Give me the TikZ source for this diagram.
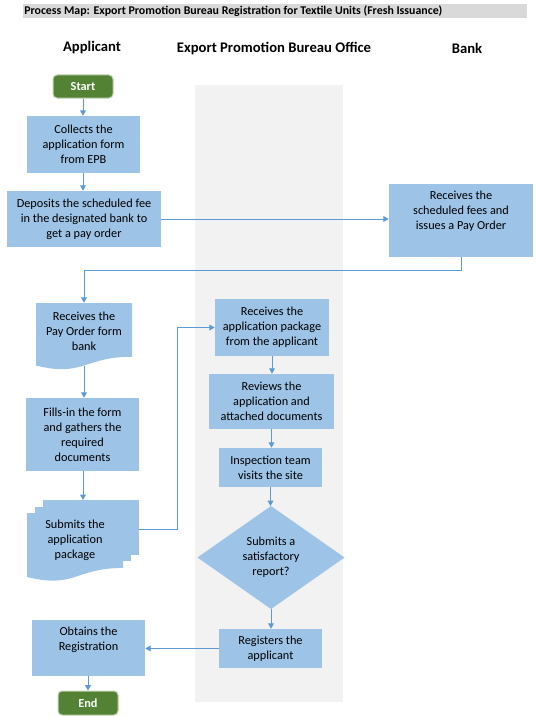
\documentclass[tikz,border=0pt]{standalone}
\usepackage{fontspec}
\setmainfont{Carlito}
\usetikzlibrary{arrows.meta}
\definecolor{boxblue}{HTML}{9DC3E6}
\definecolor{linkblue}{HTML}{5B9BD5}
\definecolor{laneg}{HTML}{F2F2F2}
\definecolor{titleg}{HTML}{D9D9D9}
\definecolor{startg}{HTML}{548235}
\definecolor{startb}{HTML}{BFD3B0}
\newcommand\mydocfill[4]{%
  \fill[boxblue] (#1,#2) -- ({#1+#3},#2) -- ({#1+#3},{#2+0.802*#4})
    .. controls ({#1+0.5*#3},{#2+0.802*#4}) and ({#1+0.5*#3},{#2+1.107*#4}) ..
    (#1,{#2+0.934*#4}) -- cycle;}
\begin{document}
\begin{tikzpicture}[x=0.75pt,y=-0.75pt,
 sz/.style 2 args={minimum width=#1*0.75pt, minimum height=#2*0.75pt},
 box/.style={fill=boxblue, inner sep=0pt, align=center, font=\fontsize{9.2pt}{11.25pt}\selectfont},
 txt/.style={inner sep=0pt, align=center, font=\fontsize{9.2pt}{11.25pt}\selectfont},
 term/.style={fill=startg, draw=startb, line width=0.75pt, rounded corners=3pt, text=white, font=\fontsize{9.2pt}{11pt}\selectfont\bfseries, inner sep=0pt},
 hdr/.style={font=\fontsize{11pt}{13pt}\selectfont\bfseries, inner sep=0pt},
 arr/.style={draw=linkblue, line width=0.75pt, -{Triangle[length=4pt,width=4.3pt]}},
 lnk/.style={draw=linkblue, line width=0.75pt}
]
\useasboundingbox (0,0) rectangle (536,717);
% title
\fill[titleg] (23,4) rectangle (527,18);
\node[anchor=west, inner sep=0pt, font=\fontsize{8.9pt}{10pt}\selectfont\bfseries] (title) at (24,11) {Process Map: Export Promotion Bureau Registration for Textile Units (Fresh Issuance)};
% lane
\fill[laneg] (195,85) rectangle (343,702);
% headers
\node[hdr] (h1) at (92,48) {Applicant};
\node[hdr] (h2) at (274,48) {Export Promotion Bureau Office};
\node[hdr] (h3) at (467,48) {Bank};
% shapes
\mydocfill{36}{303}{96}{67}
\fill[boxblue] (43,500) rectangle (138.5,555);
\fill[boxblue] (35,506.5) rectangle (131,561);
\mydocfill{27}{513}{96}{68.5}
\fill[boxblue] (271,506) -- (344.5,557.5) -- (271,609) -- (197.5,557.5) -- cycle;
\coordinate (diaN) at (271,506);
\coordinate (diaS) at (271,609);
% nodes
\node[term, sz={60}{23}] (start) at (83,86.5) {Start};
\node[box, sz={113}{57}] (collect) at (83.5,144.5) {Collects the\\application form\\from EPB};
\node[box, sz={154}{56}] (deposit) at (84,219) {Deposits the scheduled fee\\in the designated bank to\\get a pay order};
\node[box, sz={144}{73}] (bank) at (461,220.5) {};
\node[txt] (bankt) at (461,211) {Receives the\\scheduled fees and\\issues a Pay Order};
\node[txt, sz={96}{56}] (recv) at (84,331) {Receives the\\Pay Order form\\bank};
\coordinate (recvb) at (84,365.5);
\node[box, sz={113}{73}] (fills) at (82.5,434.5) {Fills-in the form\\and gathers the\\required\\documents};
\node[txt] (sub) at (75,540) {Submits the\\application\\package};
\coordinate (subtop) at (83,500);
\coordinate (subr) at (138.5,529);
\node[box, sz={114}{57}] (pkg) at (272,327.5) {Receives the\\application package\\from the applicant};
\node[box, sz={125}{55}] (review) at (271.5,401.5) {Reviews the\\application and\\attached documents};
\node[box, sz={103}{39}] (inspect) at (270.5,467.5) {Inspection team\\visits the site};
\node[txt] (dia) at (271,557.5) {Submits a\\satisfactory\\report?};
\node[box, sz={103}{39}] (register) at (270.5,648.5) {Registers the\\applicant};
\node[box, sz={113}{56}] (obtain) at (88.5,648) {};
\node[txt] (obtaint) at (88.5,640) {Obtains the\\Registration};
\node[term, sz={60}{24}] (end) at (88,703) {End};
% connectors
\draw[arr] (start.south) -- (collect.north -| start.south);
\draw[arr] (collect.south -| start.south) -- (deposit.north -| start.south);
\draw[arr] (deposit.east) -- (deposit.east -| bank.west);
\draw[arr] (bank.south) -- ++(0,13) -| (recv.north);
\draw[arr] (recvb) -- (recvb |- fills.north);
\draw[arr] (fills.south -| subtop) -- (subtop);
\draw[arr] (subr) -- (177,529) |- (pkg.west);
\draw[arr] (pkg.south) -- (pkg.south |- review.north);
\draw[arr] (review.south) -- (review.south |- inspect.north);
\draw[arr] (inspect.south) -- (inspect.south |- diaN);
\draw[arr] (diaS) -- (diaS |- register.north);
\draw[arr] (register.west) -- (register.west -| obtain.east);
\draw[arr] (end.north |- obtain.south) -- (end.north);
\end{tikzpicture}
\end{document}
